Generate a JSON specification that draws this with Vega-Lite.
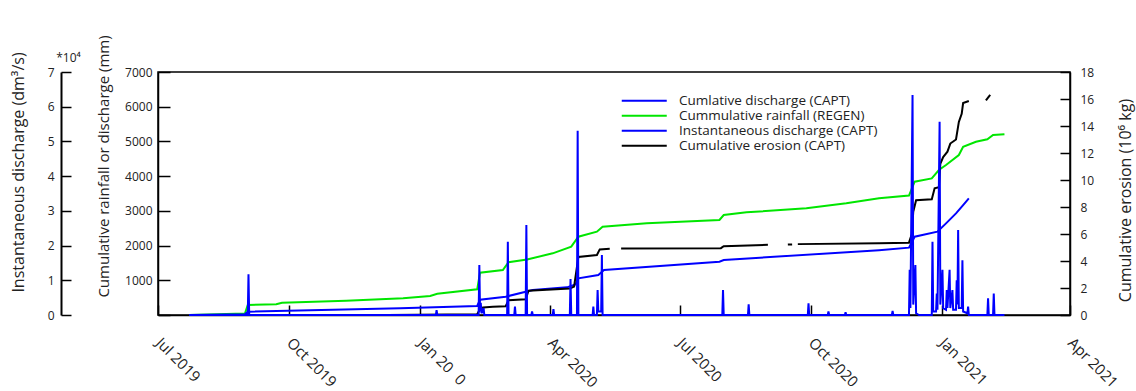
{
  "$schema": "https://vega.github.io/schema/vega-lite/v6.json",
  "width": 912,
  "height": 243,
  "autosize": {"type": "none"},
  "padding": {"left": 158, "top": 72, "right": 66, "bottom": 76},
  "config": {
    "font": "Open Sans",
    "view": {"stroke": "#000000", "strokeWidth": 1.5},
    "axis": {"domainColor": "#000000", "tickColor": "#000000", "labelColor": "#222222", "titleColor": "#222222", "domainWidth": 1.5, "tickWidth": 1.5, "grid": false, "labelFont": "Open Sans", "titleFont": "Open Sans", "titleFontWeight": "normal"}
  },
  "datasets": {
    "rain": [
      {"date": "2019-07-23T00:00", "mm": 0},
      {"date": "2019-08-31T00:00", "mm": 40},
      {"date": "2019-09-02T00:00", "mm": 290},
      {"date": "2019-09-22T00:00", "mm": 308},
      {"date": "2019-09-26T00:00", "mm": 354},
      {"date": "2019-11-10T00:00", "mm": 410},
      {"date": "2019-12-20T00:00", "mm": 481},
      {"date": "2020-01-08T00:00", "mm": 547},
      {"date": "2020-01-13T00:00", "mm": 610},
      {"date": "2020-02-10T00:00", "mm": 740},
      {"date": "2020-02-12T00:00", "mm": 1220},
      {"date": "2020-02-28T00:00", "mm": 1296},
      {"date": "2020-03-03T00:00", "mm": 1520},
      {"date": "2020-03-16T00:00", "mm": 1600},
      {"date": "2020-04-03T00:00", "mm": 1776},
      {"date": "2020-04-16T00:00", "mm": 1968},
      {"date": "2020-04-21T00:00", "mm": 2256},
      {"date": "2020-05-04T00:00", "mm": 2400},
      {"date": "2020-05-08T00:00", "mm": 2544},
      {"date": "2020-06-08T00:00", "mm": 2640},
      {"date": "2020-07-29T00:00", "mm": 2736},
      {"date": "2020-08-01T00:00", "mm": 2880},
      {"date": "2020-08-17T00:00", "mm": 2957},
      {"date": "2020-09-28T00:00", "mm": 3072},
      {"date": "2020-10-26T00:00", "mm": 3216},
      {"date": "2020-11-18T00:00", "mm": 3360},
      {"date": "2020-12-09T00:00", "mm": 3440},
      {"date": "2020-12-13T00:00", "mm": 3840},
      {"date": "2020-12-25T00:00", "mm": 3936},
      {"date": "2020-12-30T00:00", "mm": 4176},
      {"date": "2021-01-04T00:00", "mm": 4320},
      {"date": "2021-01-13T00:00", "mm": 4608},
      {"date": "2021-01-16T00:00", "mm": 4848},
      {"date": "2021-01-25T00:00", "mm": 4992},
      {"date": "2021-02-02T00:00", "mm": 5060},
      {"date": "2021-02-06T00:00", "mm": 5184},
      {"date": "2021-02-14T00:00", "mm": 5208}
    ],
    "cumq": [
      {"date": "2019-07-23T00:00", "mm": 0},
      {"date": "2019-08-31T00:00", "mm": 20},
      {"date": "2019-09-02T00:00", "mm": 96},
      {"date": "2019-12-18T00:00", "mm": 192},
      {"date": "2020-02-10T00:00", "mm": 260},
      {"date": "2020-02-12T00:00", "mm": 440},
      {"date": "2020-03-01T00:00", "mm": 528},
      {"date": "2020-03-20T00:00", "mm": 720},
      {"date": "2020-04-13T00:00", "mm": 797},
      {"date": "2020-04-19T00:00", "mm": 880},
      {"date": "2020-04-21T00:00", "mm": 1056},
      {"date": "2020-05-05T00:00", "mm": 1152},
      {"date": "2020-05-09T00:00", "mm": 1296},
      {"date": "2020-07-29T00:00", "mm": 1536},
      {"date": "2020-08-01T00:00", "mm": 1584},
      {"date": "2020-11-18T00:00", "mm": 1868},
      {"date": "2020-12-09T00:00", "mm": 1940},
      {"date": "2020-12-13T00:00", "mm": 2256},
      {"date": "2020-12-29T00:00", "mm": 2400},
      {"date": "2021-01-04T00:00", "mm": 2640},
      {"date": "2021-01-11T00:00", "mm": 2928},
      {"date": "2021-01-16T00:00", "mm": 3168},
      {"date": "2021-01-20T00:00", "mm": 3360}
    ],
    "eros": [
      {"seg": 1, "date": "2019-12-09T00:00", "e": 0},
      {"seg": 1, "date": "2020-02-10T00:00", "e": 0.05},
      {"seg": 1, "date": "2020-02-12T00:00", "e": 0.45},
      {"seg": 1, "date": "2020-02-14T00:00", "e": 0.55},
      {"seg": 1, "date": "2020-02-21T00:00", "e": 0.62},
      {"seg": 1, "date": "2020-03-01T00:00", "e": 0.65},
      {"seg": 1, "date": "2020-03-03T00:00", "e": 1.1},
      {"seg": 1, "date": "2020-03-15T00:00", "e": 1.16},
      {"seg": 1, "date": "2020-03-17T00:00", "e": 1.8},
      {"seg": 1, "date": "2020-04-15T00:00", "e": 1.97},
      {"seg": 1, "date": "2020-04-18T00:00", "e": 2.1},
      {"seg": 1, "date": "2020-04-21T00:00", "e": 4.3},
      {"seg": 1, "date": "2020-05-04T00:00", "e": 4.44},
      {"seg": 1, "date": "2020-05-06T00:00", "e": 4.86},
      {"seg": 1, "date": "2020-05-13T00:00", "e": 4.9},
      {"seg": 2, "date": "2020-05-21T00:00", "e": 4.92},
      {"seg": 2, "date": "2020-07-30T00:00", "e": 4.95},
      {"seg": 2, "date": "2020-08-01T00:00", "e": 5.1},
      {"seg": 2, "date": "2020-09-01T00:00", "e": 5.2},
      {"seg": 3, "date": "2020-09-15T00:00", "e": 5.22},
      {"seg": 3, "date": "2020-09-18T00:00", "e": 5.23},
      {"seg": 4, "date": "2020-09-22T00:00", "e": 5.25},
      {"seg": 4, "date": "2020-11-18T00:00", "e": 5.32},
      {"seg": 4, "date": "2020-12-09T00:00", "e": 5.36},
      {"seg": 4, "date": "2020-12-11T00:00", "e": 6.0},
      {"seg": 4, "date": "2020-12-12T00:00", "e": 7.65},
      {"seg": 4, "date": "2020-12-14T00:00", "e": 8.5},
      {"seg": 4, "date": "2020-12-25T00:00", "e": 8.57},
      {"seg": 4, "date": "2020-12-27T00:00", "e": 9.38},
      {"seg": 4, "date": "2020-12-30T00:00", "e": 9.46},
      {"seg": 4, "date": "2020-12-31T00:00", "e": 11.2},
      {"seg": 4, "date": "2021-01-02T00:00", "e": 11.7},
      {"seg": 4, "date": "2021-01-05T00:00", "e": 12.1},
      {"seg": 4, "date": "2021-01-07T00:00", "e": 12.7},
      {"seg": 4, "date": "2021-01-11T00:00", "e": 13.0},
      {"seg": 4, "date": "2021-01-13T00:00", "e": 14.3},
      {"seg": 4, "date": "2021-01-15T00:00", "e": 14.9},
      {"seg": 4, "date": "2021-01-16T00:00", "e": 15.7},
      {"seg": 4, "date": "2021-01-20T00:00", "e": 15.85},
      {"seg": 5, "date": "2021-02-01T00:00", "e": 15.9},
      {"seg": 5, "date": "2021-02-04T00:00", "e": 16.3}
    ],
    "inst": [
      {"date": "2019-07-23T00:00", "q": 0},
      {"date": "2019-09-02T00:00", "q": 0},
      {"date": "2019-09-02T12:00", "q": 1.17},
      {"date": "2019-09-03T00:00", "q": 0},
      {"date": "2020-01-12T00:00", "q": 0},
      {"date": "2020-01-12T12:00", "q": 0.14},
      {"date": "2020-01-13T00:00", "q": 0},
      {"date": "2020-02-11T00:00", "q": 0},
      {"date": "2020-02-11T12:00", "q": 1.44},
      {"date": "2020-02-12T00:00", "q": 0.1},
      {"date": "2020-02-12T12:00", "q": 0.35},
      {"date": "2020-02-13T00:00", "q": 0.05},
      {"date": "2020-02-14T12:00", "q": 0.2},
      {"date": "2020-02-15T00:00", "q": 0},
      {"date": "2020-03-02T00:00", "q": 0},
      {"date": "2020-03-02T12:00", "q": 2.11},
      {"date": "2020-03-03T00:00", "q": 0},
      {"date": "2020-03-07T00:00", "q": 0},
      {"date": "2020-03-07T12:00", "q": 0.24},
      {"date": "2020-03-08T00:00", "q": 0},
      {"date": "2020-03-15T00:00", "q": 0},
      {"date": "2020-03-15T12:00", "q": 2.59},
      {"date": "2020-03-16T00:00", "q": 0},
      {"date": "2020-03-19T00:00", "q": 0},
      {"date": "2020-03-19T12:00", "q": 0.1},
      {"date": "2020-03-20T00:00", "q": 0},
      {"date": "2020-04-03T00:00", "q": 0},
      {"date": "2020-04-03T12:00", "q": 0.17},
      {"date": "2020-04-04T00:00", "q": 0},
      {"date": "2020-04-15T00:00", "q": 0},
      {"date": "2020-04-15T12:00", "q": 1.04},
      {"date": "2020-04-16T00:00", "q": 0},
      {"date": "2020-04-20T00:00", "q": 0},
      {"date": "2020-04-20T12:00", "q": 5.31},
      {"date": "2020-04-21T00:00", "q": 0},
      {"date": "2020-05-01T00:00", "q": 0},
      {"date": "2020-05-01T12:00", "q": 0.24},
      {"date": "2020-05-02T00:00", "q": 0},
      {"date": "2020-05-04T00:00", "q": 0},
      {"date": "2020-05-04T12:00", "q": 0.72},
      {"date": "2020-05-05T00:00", "q": 0.1},
      {"date": "2020-05-07T00:00", "q": 0.1},
      {"date": "2020-05-07T12:00", "q": 1.73},
      {"date": "2020-05-08T00:00", "q": 0},
      {"date": "2020-07-31T00:00", "q": 0},
      {"date": "2020-07-31T12:00", "q": 0.72},
      {"date": "2020-08-01T00:00", "q": 0},
      {"date": "2020-08-18T00:00", "q": 0},
      {"date": "2020-08-18T12:00", "q": 0.31},
      {"date": "2020-08-19T00:00", "q": 0},
      {"date": "2020-09-29T00:00", "q": 0},
      {"date": "2020-09-29T12:00", "q": 0.34},
      {"date": "2020-09-30T00:00", "q": 0},
      {"date": "2020-10-13T00:00", "q": 0},
      {"date": "2020-10-13T12:00", "q": 0.1},
      {"date": "2020-10-14T00:00", "q": 0},
      {"date": "2020-10-25T00:00", "q": 0},
      {"date": "2020-10-25T12:00", "q": 0.08},
      {"date": "2020-10-26T00:00", "q": 0},
      {"date": "2020-11-27T00:00", "q": 0},
      {"date": "2020-11-27T12:00", "q": 0.12},
      {"date": "2020-11-28T00:00", "q": 0},
      {"date": "2020-12-09T00:00", "q": 0},
      {"date": "2020-12-09T12:00", "q": 1.3},
      {"date": "2020-12-10T00:00", "q": 0.2},
      {"date": "2020-12-11T12:00", "q": 6.34},
      {"date": "2020-12-12T00:00", "q": 0.3},
      {"date": "2020-12-13T12:00", "q": 1.44},
      {"date": "2020-12-14T00:00", "q": 0.05},
      {"date": "2020-12-16T00:00", "q": 0},
      {"date": "2020-12-25T00:00", "q": 0},
      {"date": "2020-12-25T12:00", "q": 2.11},
      {"date": "2020-12-26T00:00", "q": 0.1},
      {"date": "2020-12-28T00:00", "q": 0.1},
      {"date": "2020-12-28T12:00", "q": 0.62},
      {"date": "2020-12-29T00:00", "q": 0.15},
      {"date": "2020-12-30T12:00", "q": 5.57},
      {"date": "2020-12-31T00:00", "q": 0.3},
      {"date": "2021-01-01T12:00", "q": 1.3},
      {"date": "2021-01-02T00:00", "q": 0.2},
      {"date": "2021-01-04T00:00", "q": 0.15},
      {"date": "2021-01-04T12:00", "q": 0.72},
      {"date": "2021-01-05T00:00", "q": 0.2},
      {"date": "2021-01-06T12:00", "q": 1.3},
      {"date": "2021-01-07T00:00", "q": 0.2},
      {"date": "2021-01-08T12:00", "q": 0.72},
      {"date": "2021-01-09T00:00", "q": 0.15},
      {"date": "2021-01-11T00:00", "q": 0.15},
      {"date": "2021-01-11T12:00", "q": 1.0},
      {"date": "2021-01-12T00:00", "q": 0.3},
      {"date": "2021-01-12T12:00", "q": 2.45},
      {"date": "2021-01-13T00:00", "q": 0.2},
      {"date": "2021-01-15T00:00", "q": 0.2},
      {"date": "2021-01-15T12:00", "q": 1.58},
      {"date": "2021-01-16T00:00", "q": 0.1},
      {"date": "2021-01-19T00:00", "q": 0.05},
      {"date": "2021-01-19T12:00", "q": 0.24},
      {"date": "2021-01-20T00:00", "q": 0},
      {"date": "2021-02-02T00:00", "q": 0},
      {"date": "2021-02-02T12:00", "q": 0.48},
      {"date": "2021-02-03T00:00", "q": 0},
      {"date": "2021-02-06T00:00", "q": 0},
      {"date": "2021-02-06T12:00", "q": 0.62},
      {"date": "2021-02-07T00:00", "q": 0},
      {"date": "2021-02-14T00:00", "q": 0}
    ]
  },
  "layer": [
    {
      "data": {"name": "rain"},
      "mark": {"type": "line", "strokeWidth": 2},
      "encoding": {
        "x": {
          "field": "date", "type": "temporal",
          "scale": {"domain": [{"year": 2019, "month": 7, "date": 1}, {"year": 2021, "month": 4, "date": 1}]},
          "axis": {
            "title": null,
            "values": [
              {"year": 2019, "month": 7, "date": 1}, {"year": 2019, "month": 10, "date": 1},
              {"year": 2020, "month": 1, "date": 1}, {"year": 2020, "month": 4, "date": 1},
              {"year": 2020, "month": 7, "date": 1}, {"year": 2020, "month": 10, "date": 1},
              {"year": 2021, "month": 1, "date": 1}, {"year": 2021, "month": 4, "date": 1}
            ],
            "format": "%b %Y",
            "labelExpr": "datum.label == 'Jan 2020' ? 'Jan 20\u20070' : datum.label",
            "labelAngle": 45, "labelAlign": "left", "labelBaseline": "top",
            "tickSize": -10, "labelPadding": 30, "labelOffset": 5,
            "labelFontSize": 15, "labelOverlap": false, "labelFlush": false, "labelBound": false
          }
        },
        "y": {
          "field": "mm", "type": "quantitative",
          "scale": {"domain": [0, 7000]},
          "axis": {
            "orient": "left", "values": [0, 1000, 2000, 3000, 4000, 5000, 6000, 7000], "format": "d",
            "labelExpr": "datum.value == 0 ? '' : datum.label",
            "tickSize": -12, "labelPadding": 18, "labelFontSize": 12,
            "title": "Cumulative rainfall or discharge (mm)", "titleFontSize": 15,
            "titleAngle": -90, "titleX": -55, "titleY": 94, "titleAlign": "center", "titleBaseline": "middle"
          }
        },
        "color": {
          "datum": "Cummulative rainfall (REGEN)", "type": "nominal",
          "scale": {
            "domain": ["Cumlative discharge (CAPT)", "Cummulative rainfall (REGEN)", "Instantaneous discharge (CAPT)", "Cumulative erosion (CAPT)"],
            "range": ["#0000ff", "#00e600", "#0000ff", "#000000"]
          },
          "legend": {
            "orient": "none", "legendX": 479.5, "legendY": 22, "title": null,
            "symbolType": "M-5,0H5", "symbolSize": 81, "symbolStrokeWidth": 2,
            "labelFontSize": 13.5, "labelFont": "Open Sans", "labelColor": "#222222",
            "labelOffset": 28, "rowPadding": 0, "padding": 0, "labelLimit": 0
          }
        }
      }
    },
    {
      "data": {"name": "cumq"},
      "mark": {"type": "line", "strokeWidth": 2},
      "encoding": {
        "x": {"field": "date", "type": "temporal"},
        "y": {
          "field": "mm", "type": "quantitative",
          "scale": {"domain": [0, 7000]},
          "axis": {
            "orient": "left", "offset": 97, "labels": false, "ticks": false, "domain": false,
            "title": "*10⁴", "titleAngle": 0, "titleX": 7, "titleY": -15, "titleFontSize": 12,
            "titleAlign": "center", "titleBaseline": "middle"
          }
        },
        "color": {"datum": "Cumlative discharge (CAPT)", "type": "nominal"}
      }
    },
    {
      "data": {"name": "eros"},
      "mark": {"type": "line", "strokeWidth": 2},
      "encoding": {
        "x": {"field": "date", "type": "temporal"},
        "y": {
          "field": "e", "type": "quantitative",
          "scale": {"domain": [0, 18]},
          "axis": {
            "orient": "right", "values": [0, 2, 4, 6, 8, 10, 12, 14, 16, 18],
            "tickSize": -10, "labelPadding": 20, "labelFontSize": 12,
            "title": "Cumulative erosion (10⁶ kg)", "titleFontSize": 16,
            "titleAngle": -90, "titleX": 55, "titleY": 128, "titleAlign": "center", "titleBaseline": "middle"
          }
        },
        "detail": {"field": "seg", "type": "nominal"},
        "color": {"datum": "Cumulative erosion (CAPT)", "type": "nominal"}
      }
    },
    {
      "data": {"name": "inst"},
      "mark": {"type": "line", "strokeWidth": 2},
      "encoding": {
        "x": {"field": "date", "type": "temporal"},
        "y": {
          "field": "q", "type": "quantitative",
          "scale": {"domain": [0, 7]},
          "axis": {
            "orient": "left", "offset": 97, "values": [0, 1, 2, 3, 4, 5, 6, 7],
            "tickSize": -10, "labelPadding": 17, "labelFontSize": 12, "domainWidth": 2,
            "title": "Instantaneous discharge (dm³/s)", "titleFontSize": 16,
            "titleAngle": -90, "titleX": -43, "titleY": 100, "titleAlign": "center", "titleBaseline": "middle"
          }
        },
        "color": {"datum": "Instantaneous discharge (CAPT)", "type": "nominal"}
      }
    }
  ],
  "resolve": {"scale": {"y": "independent"}, "axis": {"y": "independent"}}
}
